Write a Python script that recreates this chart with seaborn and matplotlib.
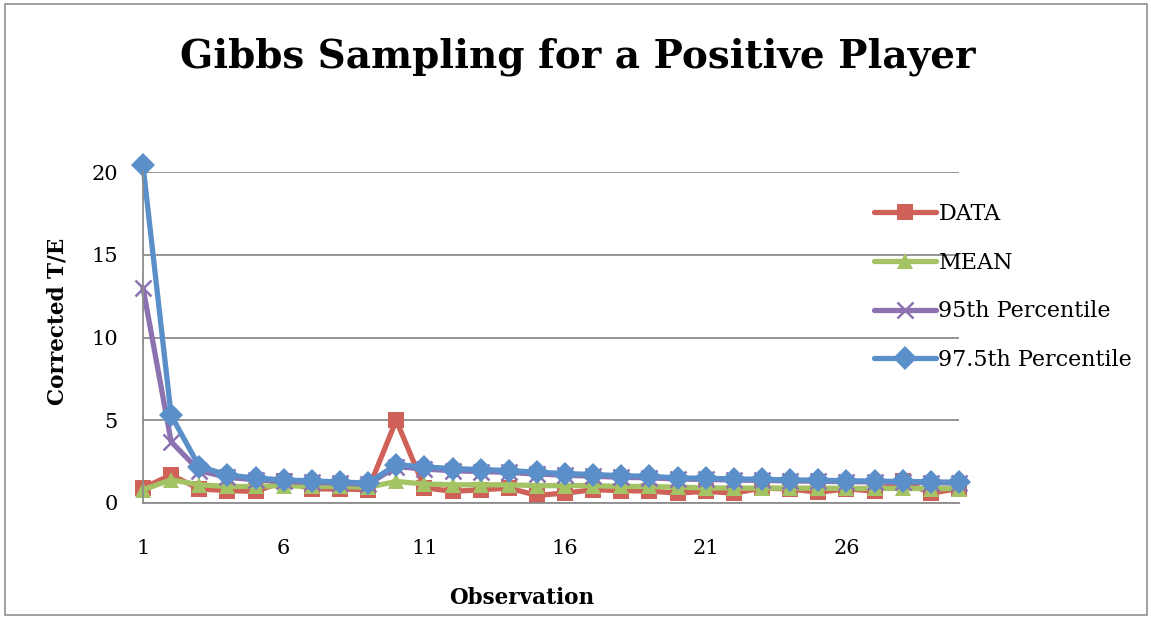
import numpy as np
import pandas as pd
import matplotlib
matplotlib.use("Agg")
import matplotlib.pyplot as plt
import seaborn as sns
from matplotlib.patches import Rectangle

sns.set_theme(style="white")
plt.rcParams['font.family'] = ['DejaVu Serif']
plt.rcParams['text.color'] = 'black'
plt.rcParams['xtick.color'] = 'black'
plt.rcParams['ytick.color'] = 'black'

observations = list(range(1, 31))
data_vals = [0.9, 1.7, 0.85, 0.75, 0.7, 1.3, 0.85, 0.85, 0.8, 5.0,
             0.93, 0.7, 0.8, 0.9, 0.46, 0.6, 0.8, 0.75, 0.72, 0.6,
             0.7, 0.6, 0.9, 0.85, 0.65, 0.85, 0.72, 1.3, 0.6, 0.87]
mean_vals = [0.8, 1.4, 1.1, 1.0, 1.0, 1.05, 1.0, 1.0, 0.95, 1.3,
             1.15, 1.1, 1.1, 1.1, 1.05, 1.05, 1.05, 1.0, 1.0, 0.95,
             0.92, 0.9, 0.9, 0.9, 0.9, 0.88, 0.88, 0.88, 0.87, 0.87]
p95_vals = [13.0, 3.7, 1.95, 1.55, 1.4, 1.3, 1.25, 1.2, 1.12, 2.2,
            2.05, 1.95, 1.9, 1.85, 1.75, 1.68, 1.62, 1.55, 1.52, 1.45,
            1.42, 1.39, 1.36, 1.34, 1.31, 1.29, 1.27, 1.25, 1.23, 1.2]
p975_vals = [20.4, 5.3, 2.2, 1.7, 1.5, 1.4, 1.33, 1.27, 1.2, 2.32,
             2.18, 2.08, 2.02, 1.96, 1.86, 1.78, 1.72, 1.65, 1.61, 1.52,
             1.49, 1.46, 1.43, 1.40, 1.37, 1.35, 1.32, 1.30, 1.28, 1.25]
series_names = ["DATA", "MEAN", "95th Percentile", "97.5th Percentile"]
x_ticks = [1, 6, 11, 16, 21, 26]
y_ticks = [0, 5, 10, 15, 20]

colors = ["#CF6158", "#A4C364", "#8C72B0", "#5B8FC9"]
markers = ["s", "^", "x", "D"]
msizes = [12, 12, 12, 12]
mews = [0, 0, 1.8, 0]

fig = plt.figure(figsize=(11.51, 6.19), dpi=100)
ax = fig.add_axes([143/1151, 1 - 503/619, (959-143)/1151, (503-172)/619])

for name, vals, c, m, ms, mew in zip(series_names,
                                     [data_vals, mean_vals, p95_vals, p975_vals],
                                     colors, markers, msizes, mews):
    df = pd.DataFrame({"Observation": observations, "value": vals})
    sns.lineplot(data=df, x="Observation", y="value", ax=ax, color=c,
                 linewidth=3.8, marker=m, markersize=ms, markeredgewidth=mew,
                 markeredgecolor=c, label=name, clip_on=False)

ax.set_xlim(1, 30)
ax.set_ylim(0, 20)
ax.set_xticks(x_ticks)
ax.set_yticks(y_ticks)
ax.yaxis.grid(True, color="#8c8c8c", linewidth=1.3)
ax.xaxis.grid(False)
for s in ["top", "right"]:
    ax.spines[s].set_visible(False)
for s in ["left", "bottom"]:
    ax.spines[s].set_color("#8c8c8c")
    ax.spines[s].set_linewidth(1.3)
ax.tick_params(axis="x", labelsize=15, pad=26, length=0, colors="black")
ax.tick_params(axis="y", labelsize=15, pad=18, length=0, colors="black")
ax.set_xlabel("")
ax.set_ylabel("")

fig.text(522/1151, 1 - 598/619, "Observation", ha="center", va="center",
         fontsize=15.5, fontweight="bold", color="black")
fig.text(57/1151, 1 - 321/619, "Corrected T/E", ha="center", va="center",
         fontsize=15.5, fontweight="bold", rotation=90, color="black")
fig.text(578/1151, 1 - 57/619, "Gibbs Sampling for a Positive Player",
         ha="center", va="center", fontsize=28, fontweight="bold", color="black")

leg = ax.legend(loc="upper left", bbox_to_anchor=(874/1151, 1 - 203/619),
                bbox_transform=fig.transFigure, frameon=False, fontsize=16,
                handlelength=2.8, handletextpad=0.1, labelspacing=1.2,
                borderpad=0, borderaxespad=0)
for t in leg.get_texts():
    t.set_color("black")

fig.add_artist(Rectangle((5/1151, 4/619), 1142/1151, 611/619,
                         transform=fig.transFigure, fill=False,
                         edgecolor="#9a9a9a", linewidth=1.3))

fig.savefig("out.png", dpi=100, facecolor="white")
